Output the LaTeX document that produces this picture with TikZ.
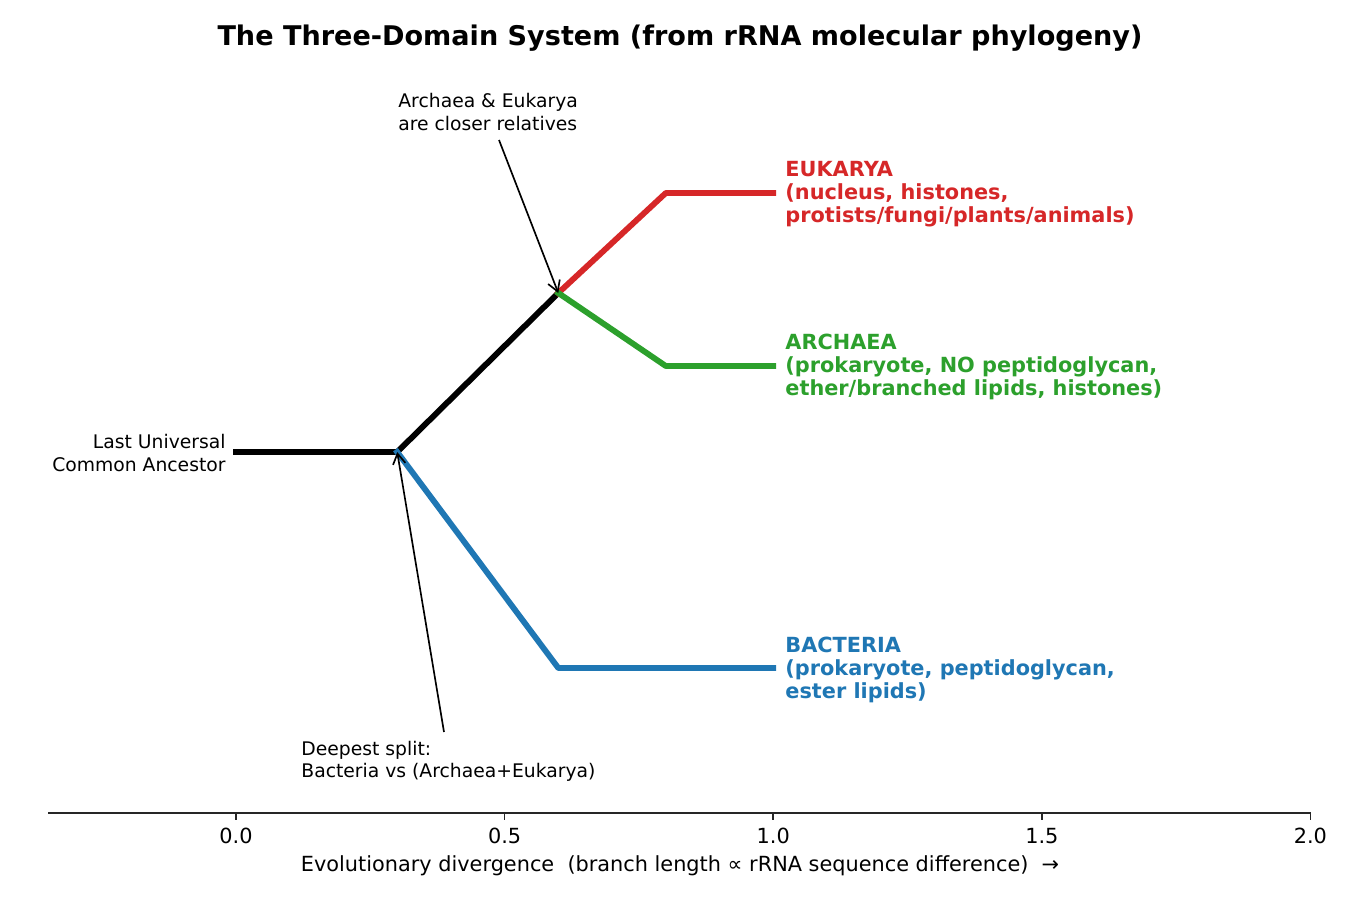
\documentclass[tikz,border=0pt]{standalone}
\usepackage{fontspec}
\setmainfont{DejaVu Sans}
\usetikzlibrary{arrows.meta}
\definecolor{tabred}{HTML}{D62728}
\definecolor{tabgreen}{HTML}{2CA02C}
\definecolor{tabblue}{HTML}{1F77B4}
\definecolor{axisgray}{HTML}{262626}
\tikzset{
  branch/.style={line width=2.8pt, line cap=rect, line join=round},
  annot/.style={font=\fontsize{9}{10.6}\selectfont, inner sep=0pt},
  domlab/.style={font=\fontsize{10}{11.2}\selectfont\bfseries, inner sep=0pt, align=left, anchor=west},
  pointer/.style={line width=0.8pt, -{Straight Barb[length=5pt,width=6pt]}},
  ticklab/.style={font=\fontsize{10}{12}\selectfont, inner sep=0pt},
}
\begin{document}
\begin{tikzpicture}[x=0.48pt,y=-0.48pt]
\useasboundingbox (0,0) rectangle (1350,900);
% title
\node[font=\fontsize{13}{15}\selectfont\bfseries, inner sep=0pt] (title) at (680,38) {The Three-Domain System (from rRNA molecular phylogeny)};
% tree coordinates
\coordinate (luca) at (236,452);
\coordinate (n1) at (397.2,452);
\coordinate (n2) at (558.3,293);
\coordinate (eu1) at (665.8,193);
\coordinate (eu2) at (773.2,193);
\coordinate (ar1) at (665.8,366);
\coordinate (ar2) at (773.2,366);
\coordinate (ba1) at (558.3,668);
\coordinate (ba2) at (773.2,668);
% branches
\draw[branch, black] (luca) -- (n1) -- (n2);
\draw[branch, tabred] (n2) -- (eu1) -- (eu2);
\draw[branch, tabgreen] (n2) -- (ar1) -- (ar2);
\draw[branch, tabblue] (n1) -- (ba1) -- (ba2);
% labels
\node[annot, align=right, anchor=east] (lucalab) at (226,453) {Last Universal\\Common Ancestor};
\node[domlab, text=tabred] (eulab) at (785,194) {EUKARYA\\(nucleus, histones,\\protists/fungi/plants/animals)};
\node[domlab, text=tabgreen] (arlab) at (785,367) {ARCHAEA\\(prokaryote, NO peptidoglycan,\\ether/branched lipids, histones)};
\node[domlab, text=tabblue] (balab) at (785,670) {BACTERIA\\(prokaryote, peptidoglycan,\\ester lipids)};
% annotations
\node[annot, align=left, anchor=west] (closer) at (398,112) {Archaea \& Eukarya\\are closer relatives};
\coordinate (closerfrom) at (499,140);
\draw[pointer] (closerfrom) -- (n2);
\node[annot, align=left, anchor=west] (deep) at (301,761) {Deepest split:\\Bacteria vs (Archaea+Eukarya)};
\coordinate (deepfrom) at (444,732);
\draw[pointer] (deepfrom) -- (n1);
% axis
\coordinate (axl) at (48,813);
\coordinate (axr) at (1310.5,813);
\draw[axisgray, line width=0.8pt] (axl) -- (axr);
\foreach \v/\lab in {0/0.0,1/0.5,2/1.0,3/1.5,4/2.0}{
  \draw[axisgray, line width=0.8pt] ({236+\v*268.6},813) -- ({236+\v*268.6},820);
  \node[ticklab] (tick\v) at ({236+\v*268.6},836) {\lab};
}
\node[ticklab] (xlabel) at (680,866) {Evolutionary divergence\ \ (branch length ∝ rRNA sequence difference)\ \ →};
\end{tikzpicture}
\end{document}
